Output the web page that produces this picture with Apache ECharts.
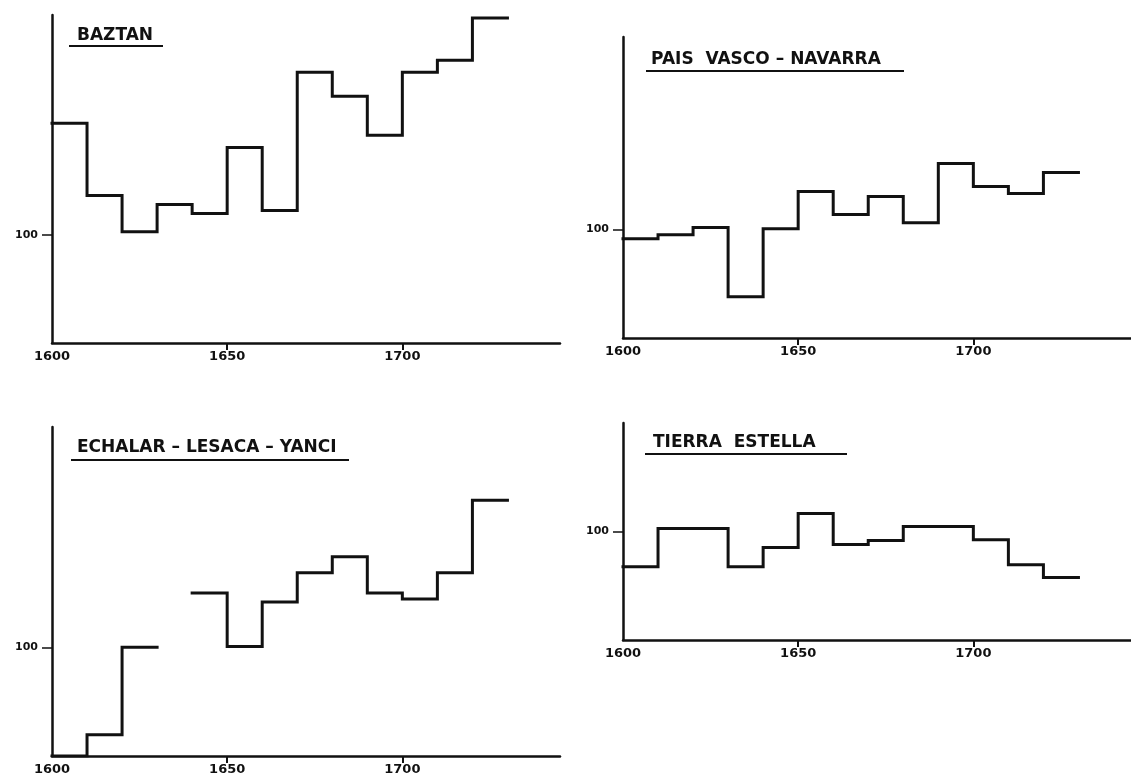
<!DOCTYPE html>
<html>
<head>
<meta charset="utf-8">
<script src="https://cdn.jsdelivr.net/npm/echarts@6/dist/echarts.min.js"></script>
<style>
  html, body { margin: 0; background: #fff; }
  #chart { width: 1131px; height: 779px; }
</style>
</head>
<body>
<div id="chart"></div>
<script>
// decade starts, each step covers ten years
const decades = [1600, 1610, 1620, 1630, 1640, 1650, 1660, 1670, 1680, 1690, 1700, 1710, 1720];

const baztan = [137, 113, 101, 110, 107, 129, 108, 154, 146, 133, 154, 158, 172];
const paisVascoNavarra = [97, 98.3, 100.7, 77.7, 100.3, 112.7, 105, 111, 102.3, 122, 114.3, 112, 119];
const echalarLesacaYanci = [64, 71, 100, null, 118, 100.3, 115, 124.7, 130, 118, 116, 124.7, 148.7];
const tierraEstella = [88.3, 101, 101, 88.3, 94.7, 106, 95.7, 97, 101.7, 101.7, 97.3, 89, 84.7];

const panelTitles = ["BAZTAN", "PAIS  VASCO – NAVARRA", "ECHALAR – LESACA – YANCI", "TIERRA  ESTELLA"];
const xTickLabels = [1600, 1650, 1700];
const yTickLabels = [100];
const yMax = [173, 164, 173, 136];

const FONT = "DejaVu Sans";
const INK = "#111";

const panels = [
  { data: baztan, grid: { left: 52, top: 15, width: 508, height: 328 }, title: { left: 77, top: 27 }, rule: [69, 163, 46] },
  { data: paisVascoNavarra, grid: { left: 623, top: 37, width: 508, height: 301 }, title: { left: 651, top: 51 }, rule: [646, 904, 71] },
  { data: echalarLesacaYanci, grid: { left: 52, top: 427, width: 508, height: 329 }, title: { left: 77, top: 439 }, rule: [71, 349, 460] },
  { data: tierraEstella, grid: { left: 623, top: 423, width: 508, height: 217 }, title: { left: 653, top: 434 }, rule: [645, 847, 454] },
];

function stepPoints(values) {
  const pts = [];
  values.forEach((v, i) => {
    const x0 = decades[i];
    if (v == null) {
      pts.push([x0 + 5, "-"]);
      return;
    }
    pts.push([x0, v], [x0 + 10, v]);
  });
  return pts;
}

const chart = echarts.init(document.getElementById("chart"));

chart.setOption({
  backgroundColor: "#fff",
  animation: false,
  title: panels.map((p, i) => ({
    text: panelTitles[i],
    left: p.title.left,
    top: p.title.top,
    padding: 0,
    textStyle: { fontFamily: FONT, fontSize: 17, fontWeight: "bold", color: INK },
  })),
  grid: panels.map((p) => p.grid),
  xAxis: panels.map((p, i) => ({
    type: "value",
    gridIndex: i,
    min: 1600,
    max: 1745,
    interval: 50,
    splitLine: { show: false },
    axisLine: { lineStyle: { color: INK, width: 2.5 } },
    axisTick: { customValues: [1650, 1700], length: 7, lineStyle: { color: INK, width: 2 } },
    axisLabel: {
      customValues: xTickLabels,
      formatter: (v) => String(v),
      margin: 7,
      fontFamily: FONT,
      fontSize: 13,
      fontWeight: "bold",
      color: INK,
    },
  })),
  yAxis: panels.map((p, i) => ({
    type: "value",
    gridIndex: i,
    min: 64,
    max: yMax[i],
    splitLine: { show: false },
    axisLine: { onZero: false, lineStyle: { color: INK, width: 2.5 } },
    axisTick: { customValues: yTickLabels, length: 10, lineStyle: { color: INK, width: 1.5 } },
    axisLabel: {
      customValues: yTickLabels,
      formatter: (v) => String(v),
      margin: 14,
      fontFamily: FONT,
      fontSize: 11,
      fontWeight: "bold",
      color: INK,
    },
  })),
  series: panels.map((p, i) => ({
    type: "line",
    xAxisIndex: i,
    yAxisIndex: i,
    data: stepPoints(p.data),
    showSymbol: false,
    connectNulls: false,
    lineStyle: { color: INK, width: 3, join: "miter", cap: "square" },
  })),
  graphic: panels.map((p) => ({
    type: "line",
    shape: { x1: p.rule[0], y1: p.rule[2], x2: p.rule[1], y2: p.rule[2] },
    style: { stroke: INK, lineWidth: 2 },
  })),
});
</script>
</body>
</html>
